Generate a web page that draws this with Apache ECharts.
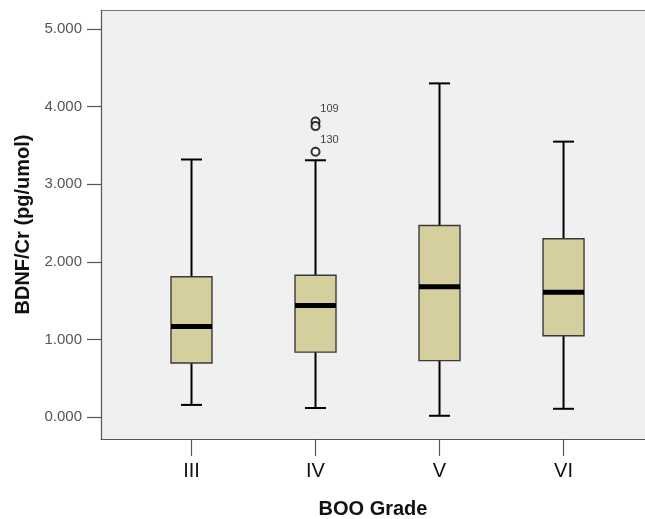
<!DOCTYPE html>
<html><head><meta charset="utf-8">
<script src="https://cdn.jsdelivr.net/npm/echarts@6/dist/echarts.min.js"></script>
<style>html,body{margin:0;padding:0;background:#fff}#c{width:645px;height:519px}</style>
</head><body><div id="c"></div>
<script>
const categories = ['III', 'IV', 'V', 'VI'];
const whiskerLow = [0.16, 0.12, 0.02, 0.11];
const q1 = [0.70, 0.84, 0.73, 1.05];
const median = [1.17, 1.44, 1.68, 1.61];
const q3 = [1.81, 1.83, 2.47, 2.30];
const whiskerHigh = [3.32, 3.31, 4.30, 3.55];
const outlierGroup = ['IV', 'IV', 'IV'];
const outlierValues = [3.81, 3.75, 3.42];
const outlierIds = ['109', '', '130'];
const yTicks = [0, 1, 2, 3, 4, 5];

const FONT = '"Liberation Sans", Arial, sans-serif';
const xPos = categories.map((c, i) => i + 1);
const boxData = categories.map((c, i) => [xPos[i], whiskerLow[i], q1[i], median[i], q3[i], whiskerHigh[i]]);
const outData = outlierValues.map((v, i) => [categories.indexOf(outlierGroup[i]) + 1, v]);

const X_MIN = 0.2702, X_MAX = 4.657;

const chart = echarts.init(document.getElementById('c'), null, {renderer: 'canvas'});
chart.setOption({
  animation: false,
  backgroundColor: '#ffffff',
  grid: {
    left: 101, top: 10, right: 0, bottom: 80,
    outerBoundsMode: 'none', containLabel: false,
    show: true, backgroundColor: '#f0f0f0', borderWidth: 0
  },
  xAxis: [{
    type: 'value', min: X_MIN, max: X_MAX,
    axisLine: {show: true, onZero: false, lineStyle: {color: '#555', width: 1.2}},
    axisTick: {show: true, customValues: xPos, length: 17, lineStyle: {color: '#555', width: 1.2}},
    axisLabel: {show: true, customValues: xPos, margin: 22, fontSize: 20, color: '#111', fontFamily: FONT,
      formatter: v => categories[Math.round(v) - 1] || ''},
    splitLine: {show: false},
    name: 'BOO Grade', nameLocation: 'middle', nameGap: 60,
    nameTextStyle: {fontSize: 20, fontWeight: 'bold', color: '#111', fontFamily: FONT}
  }, {
    type: 'value', position: 'top', min: X_MIN, max: X_MAX,
    axisLine: {show: true, onZero: false, lineStyle: {color: '#777', width: 1.2}},
    axisTick: {show: false}, axisLabel: {show: false}, splitLine: {show: false}
  }],
  yAxis: {
    type: 'value', min: -0.279, max: 5.245,
    axisLine: {show: true, onZero: false, lineStyle: {color: '#555', width: 1.2}},
    axisTick: {show: true, customValues: yTicks, length: 14, lineStyle: {color: '#555', width: 1.2}},
    axisLabel: {show: true, customValues: yTicks, margin: 19, fontSize: 15, color: '#555', fontFamily: FONT,
      formatter: v => v.toFixed(3)},
    splitLine: {show: false},
    name: 'BDNF/Cr (pg/umol)', nameLocation: 'middle', nameGap: 68, nameRotate: 90,
    nameTextStyle: {fontSize: 20, fontWeight: 'bold', color: '#111', fontFamily: FONT}
  },
  series: [
    {
      type: 'custom',
      xAxisIndex: 0,
      data: boxData,
      encode: {x: 0, y: [1, 2, 3, 4, 5]},
      renderItem: function (params, api) {
        const x = api.value(0);
        const pLow = api.coord([x, api.value(1)]);
        const pQ1 = api.coord([x, api.value(2)]);
        const pMed = api.coord([x, api.value(3)]);
        const pQ3 = api.coord([x, api.value(4)]);
        const pHigh = api.coord([x, api.value(5)]);
        const cx = pLow[0];
        const bw = 41, cw = 21;
        const ls = {stroke: '#000', lineWidth: 2};
        return {
          type: 'group',
          children: [
            {type: 'line', shape: {x1: cx, y1: pHigh[1], x2: cx, y2: pQ3[1]}, style: ls},
            {type: 'line', shape: {x1: cx, y1: pQ1[1], x2: cx, y2: pLow[1]}, style: ls},
            {type: 'line', shape: {x1: cx - cw / 2, y1: pHigh[1], x2: cx + cw / 2, y2: pHigh[1]}, style: ls},
            {type: 'line', shape: {x1: cx - cw / 2, y1: pLow[1], x2: cx + cw / 2, y2: pLow[1]}, style: ls},
            {type: 'rect', shape: {x: cx - bw / 2, y: pQ3[1], width: bw, height: pQ1[1] - pQ3[1]},
              style: {fill: '#d4cf9c', stroke: '#3a3a3a', lineWidth: 1.4}},
            {type: 'line', shape: {x1: cx - bw / 2, y1: pMed[1], x2: cx + bw / 2, y2: pMed[1]},
              style: {stroke: '#000', lineWidth: 5}}
          ]
        };
      },
      z: 2
    },
    {
      type: 'scatter',
      xAxisIndex: 0,
      data: outData,
      symbol: 'emptyCircle',
      symbolSize: 8,
      itemStyle: {color: '#000', borderWidth: 1.3},
      label: {show: true, position: 'inside', offset: [14, -12], fontSize: 11, color: '#111', fontFamily: FONT,
        formatter: p => outlierIds[p.dataIndex]},
      z: 3
    }
  ]
});
</script>
</body></html>
